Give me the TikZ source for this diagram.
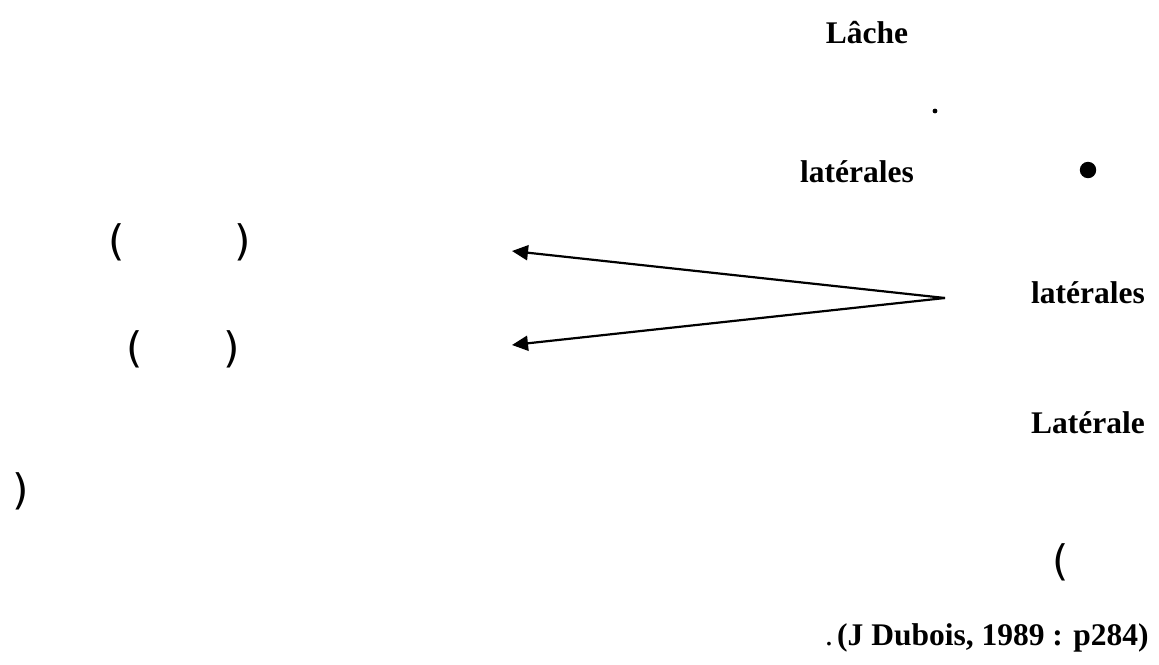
\documentclass[tikz,border=0pt]{standalone}
\usepackage{fontspec}
\setmainfont{Liberation Serif}
\newfontfamily\parenfont{DejaVu Sans}
\usetikzlibrary{arrows.meta}
\tikzset{
  lbl/.style={font=\fontsize{31.5}{36}\selectfont\bfseries, inner sep=0pt, anchor=base},
  par/.style={font=\fontsize{42}{48}\parenfont, inner sep=0pt, anchor=center},
  conn/.style={line width=2.2pt, -{Triangle[length=16pt,width=15pt]}}
}
\begin{document}
\begin{tikzpicture}[x=1pt,y=-1pt]
\useasboundingbox (0,0) rectangle (1159,664);
\node[lbl] (lache) at (867,43) {Lâche};
\fill (935,111) circle (2.4);
\node[lbl] (lat1) at (857,182) {latérales};
\fill (1088,170) circle (8.2);
\node[lbl] (lat2) at (1088,303) {latérales};
\node[lbl] (lat3) at (1088,433) {Latérale};
\node[par] (p1) at (117,242) {(};
\node[par] (p2) at (243,242) {)};
\node[par] (p3) at (135,349) {(};
\node[par] (p4) at (232,349) {)};
\node[par] (p5) at (21,491) {)};
\node[par] (p6) at (1061,562) {(};
\node[inner sep=0pt, anchor=base west, font=\fontsize{31.5}{36}\selectfont] (dot) at (825,645) {.};
\node[lbl, anchor=base west] (cite) at (837,645) {(J Dubois, 1989 : p284)};
\coordinate (apex) at (945,298);
\coordinate (t1) at (512,251);
\coordinate (t2) at (512,345);
\draw[conn] (apex) -- (t1);
\draw[conn] (apex) -- (t2);
\end{tikzpicture}
\end{document}
